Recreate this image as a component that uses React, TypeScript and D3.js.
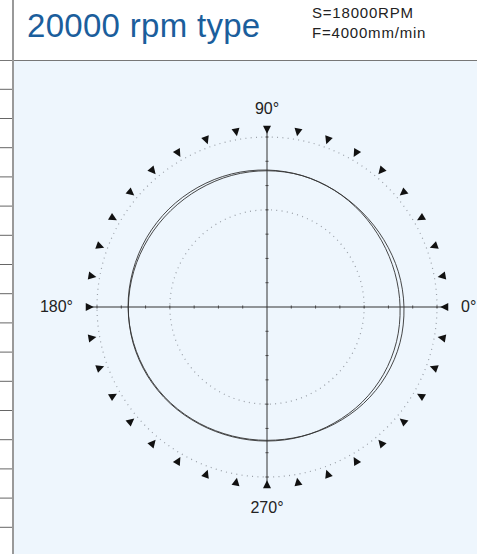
import React from "react";
import * as d3 from "d3";

const TITLE = "20000 rpm type";
const COND_LINES = ["S=18000RPM", "F=4000mm/min"];
const AXIS_LABELS = [
  { deg: 0, text: "0°" },
  { deg: 90, text: "90°" },
  { deg: 180, text: "180°" },
  { deg: 270, text: "270°" },
];
const TRACE_ANGLES = [0, 15, 30, 45, 60, 75, 90, 105, 120, 135, 150, 165, 180, 195, 210, 225, 240, 255, 270, 285, 300, 315, 330, 345];
// radii in scale units (outer circle = 7)
const TRACE_A = [5.64, 5.6, 5.55, 5.53, 5.55, 5.6, 5.64, 5.67, 5.69, 5.71, 5.72, 5.72, 5.72, 5.69, 5.65, 5.6, 5.54, 5.5, 5.49, 5.51, 5.56, 5.62, 5.66, 5.67];
const TRACE_B = [5.48, 5.45, 5.45, 5.49, 5.55, 5.6, 5.61, 5.61, 5.6, 5.61, 5.64, 5.68, 5.71, 5.71, 5.68, 5.63, 5.57, 5.53, 5.52, 5.52, 5.52, 5.54, 5.54, 5.52];
const OUTER = 7;
const INNER = 4;
const TRIANGLE_DEGS = d3.range(0, 360, 10);
const STRIP_LINES = d3.range(0, 16);

export default function App() {
  const W = 477, H = 554;
  const cx = 267, cy = 307;
  const r = d3.scaleLinear().domain([0, OUTER]).range([0, 170]);
  const triR = r(7.32);
  const toXY = (deg: number, rad: number) => {
    const a = (deg * Math.PI) / 180;
    return [cx + rad * Math.cos(a), cy - rad * Math.sin(a)];
  };
  const line = d3
    .lineRadial<[number, number]>()
    .angle((d) => ((90 - d[0]) * Math.PI) / 180)
    .radius((d) => r(d[1]))
    .curve(d3.curveCatmullRomClosed.alpha(0.5));
  const pathA = line(TRACE_ANGLES.map((a, i) => [a, TRACE_A[i]] as [number, number]));
  const pathB = line(TRACE_ANGLES.map((a, i) => [a, TRACE_B[i]] as [number, number]));
  const ticks = d3.range(1, 8);
  const stripY = d3.scaleLinear().domain([0, 1]).range([89.3, 118.5]);
  const font = "Liberation Sans, Arial, sans-serif";

  return (
    <svg width={W} height={H} style={{ position: "absolute", left: 0, top: 0, display: "block" }}>
      <rect x={0} y={0} width={W} height={H} fill="#fff" />
      <rect x={13} y={61} width={W - 13} height={H - 61} fill="#eef6fd" />
      {STRIP_LINES.map((i) => (
        <line key={i} x1={0} x2={13} y1={stripY(i)} y2={stripY(i)} stroke="#666" strokeWidth={1} />
      ))}
      <line x1={0} x2={W} y1={60.5} y2={60.5} stroke="#777" strokeWidth={1.2} />
      <line x1={13} x2={13} y1={0} y2={H} stroke="#999" strokeWidth={2} />
      <text x={27} y={37} fontFamily={font} fontSize={33} letterSpacing={0.3} fill="#1b5e9c">{TITLE}</text>
      {COND_LINES.map((t, i) => (
        <text key={t} x={312} y={18 + i * 20} fontFamily={font} fontSize={15} letterSpacing={0.8} fill="#222">{t}</text>
      ))}
      {/* dotted circles */}
      <circle cx={cx} cy={cy} r={r(OUTER)} fill="none" stroke="#9aa0a8" strokeWidth={1.2} strokeDasharray="1 4.3" />
      <circle cx={cx} cy={cy} r={r(INNER)} fill="none" stroke="#9aa0a8" strokeWidth={1.2} strokeDasharray="1 4.3" />
      {/* axes */}
      <line x1={cx - triR} x2={cx + triR} y1={cy} y2={cy} stroke="#333" strokeWidth={1} />
      <line x1={cx} x2={cx} y1={cy - triR} y2={cy + triR} stroke="#333" strokeWidth={1} />
      {ticks.map((t) => (
        <g key={t} stroke="#444" strokeWidth={1}>
          <line x1={cx + r(t)} x2={cx + r(t)} y1={cy - 1.5} y2={cy + 1.5} />
          <line x1={cx - r(t)} x2={cx - r(t)} y1={cy - 1.5} y2={cy + 1.5} />
          <line x1={cx - 1.5} x2={cx + 1.5} y1={cy + r(t)} y2={cy + r(t)} />
          <line x1={cx - 1.5} x2={cx + 1.5} y1={cy - r(t)} y2={cy - r(t)} />
        </g>
      ))}
      {/* triangles */}
      {TRIANGLE_DEGS.map((deg) => {
        const [x, y] = toXY(deg, triR);
        return (
          <path key={deg} d="M -3.5 -4 L -3.5 4 L 4.5 0 Z" fill="#111"
            transform={`translate(${x},${y}) rotate(${180 - deg})`} />
        );
      })}
      {/* traces */}
      <path d={pathA ?? ""} transform={`translate(${cx},${cy})`} fill="none" stroke="#333" strokeWidth={0.9} />
      <path d={pathB ?? ""} transform={`translate(${cx},${cy})`} fill="none" stroke="#333" strokeWidth={0.9} />
      {/* labels */}
      <text x={cx} y={114} textAnchor="middle" fontFamily={font} fontSize={16} fill="#222">{AXIS_LABELS[1].text}</text>
      <text x={cx} y={513} textAnchor="middle" fontFamily={font} fontSize={16} fill="#222">{AXIS_LABELS[3].text}</text>
      <text x={461} y={312} fontFamily={font} fontSize={16} fill="#222">{AXIS_LABELS[0].text}</text>
      <text x={73} y={312} textAnchor="end" fontFamily={font} fontSize={16} fill="#222">{AXIS_LABELS[2].text}</text>
    </svg>
  );
}
